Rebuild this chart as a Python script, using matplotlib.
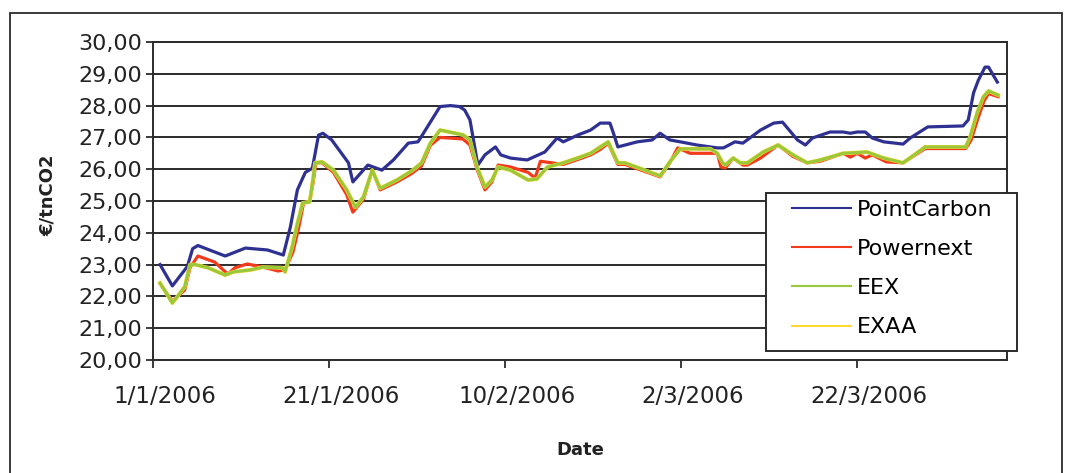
import matplotlib
matplotlib.use("Agg")
import matplotlib.pyplot as plt
from matplotlib.patches import Rectangle

# --- Data (days counted from 1/1/2006) ---
pc_days = [0.3, 1.7, 3.4, 4.0, 4.6, 7.7, 10.0, 12.5, 14.3, 15.1, 15.9, 16.8, 17.6, 18.3, 18.8,
           19.8, 21.7, 22.2, 23.9, 24.5, 25.5, 26.8, 28.5, 29.6, 30.6, 32.1, 33.3, 34.3, 34.9,
           35.5, 35.9, 36.4, 37.2, 38.4, 39.0, 40.1, 42.0, 44.0, 45.4, 46.1, 47.8, 49.2, 50.3,
           51.4, 51.8, 52.3, 54.5, 56.2, 57.1, 58.2, 59.4, 61.3, 63.6, 64.3, 65.6, 66.5, 68.5,
           70.0, 71.0, 72.7, 73.6, 74.4, 76.4, 77.9, 78.7, 79.5, 80.4, 81.2, 82.5, 84.7, 85.5,
           87.5, 91.5, 92.1, 92.7, 93.25, 94.0, 94.4, 95.4]
pc_values = [23.00, 22.33, 22.94, 23.50, 23.60, 23.27, 23.52, 23.46, 23.30, 24.18, 25.35, 25.90,
             26.03, 27.07, 27.13, 26.92, 26.20, 25.60, 26.13, 26.07, 25.97, 26.29, 26.82, 26.86,
             27.30, 27.97, 28.00, 27.97, 27.86, 27.55, 26.92, 26.13, 26.45, 26.70, 26.45, 26.35,
             26.29, 26.54, 26.98, 26.86, 27.08, 27.23, 27.45, 27.45, 27.13, 26.70, 26.86, 26.92,
             27.13, 26.92, 26.86, 26.76, 26.67, 26.67, 26.86, 26.82, 27.23, 27.45, 27.48, 26.92,
             26.76, 26.98, 27.17, 27.17, 27.13, 27.17, 27.17, 26.98, 26.86, 26.79, 26.98, 27.33,
             27.36, 27.55, 28.40, 28.80, 29.21, 29.21, 28.74]

pn_days = [0.3, 1.7, 3.1, 3.7, 4.6, 6.5, 8.0, 8.8, 10.2, 12.0, 13.7, 14.5, 15.4, 16.0, 16.6,
           17.3, 17.7, 18.0, 18.7, 20.0, 21.5, 22.2, 23.4, 24.4, 25.3, 27.2, 28.8, 30.0, 31.0,
           32.1, 34.7, 35.5, 36.3, 37.2, 38.0, 38.7, 40.1, 42.1, 42.9, 43.5, 46.1, 48.0, 49.2,
           50.3, 51.2, 52.3, 53.1, 57.1, 58.2, 59.1, 60.5, 63.6, 64.0, 64.5, 65.4, 66.5, 67.0,
           68.5, 70.5, 72.2, 73.8, 75.3, 77.9, 78.7, 79.5, 80.4, 81.2, 82.8, 84.7, 87.2, 91.8,
           92.4, 93.2, 93.9, 94.4, 95.5]
pn_values = [22.40, 21.85, 22.20, 22.90, 23.27, 23.08, 22.70, 22.90, 23.02, 22.92, 22.80, 22.83,
             23.40, 24.10, 24.94, 25.00, 25.60, 26.20, 26.20, 25.90, 25.20, 24.65, 25.05, 25.97,
             25.35, 25.60, 25.85, 26.10, 26.75, 27.00, 26.95, 26.76, 26.00, 25.35, 25.60, 26.13,
             26.07, 25.90, 25.72, 26.25, 26.15, 26.33, 26.45, 26.62, 26.82, 26.15, 26.15, 25.76,
             26.20, 26.67, 26.50, 26.50, 26.07, 26.04, 26.35, 26.13, 26.13, 26.35, 26.76, 26.40,
             26.20, 26.25, 26.50, 26.38, 26.50, 26.35, 26.45, 26.23, 26.20, 26.65, 26.65, 26.90,
             27.60, 28.15, 28.38, 28.28]

eex_days = [0.3, 1.7, 3.1, 3.7, 4.3, 5.75, 7.7, 8.6, 10.5, 12.0, 14.2, 14.5, 15.3, 15.9, 16.5,
            17.3, 17.7, 17.9, 18.7, 20.0, 21.5, 22.5, 23.4, 24.4, 25.3, 27.2, 29.0, 30.0, 31.0,
            32.1, 34.7, 35.5, 36.3, 37.2, 38.0, 38.7, 40.1, 42.1, 43.1, 44.3, 46.1, 48.0, 49.2,
            50.3, 51.2, 52.3, 53.1, 57.1, 58.2, 59.4, 62.8, 63.6, 64.2, 64.5, 65.4, 66.2, 67.0,
            68.8, 70.5, 72.2, 73.8, 75.3, 77.9, 80.6, 82.5, 84.7, 87.2, 91.8, 92.3, 93.1, 93.8,
            94.4, 95.5]
eex_values = [22.42, 21.79, 22.30, 23.00, 23.00, 22.90, 22.67, 22.77, 22.83, 22.92, 22.90, 22.77,
              23.55, 24.30, 24.94, 24.97, 25.75, 26.20, 26.23, 25.97, 25.35, 24.80, 25.13, 25.97,
              25.40, 25.66, 25.97, 26.20, 26.82, 27.23, 27.08, 26.92, 26.07, 25.44, 25.66, 26.07,
              25.97, 25.66, 25.69, 26.07, 26.20, 26.38, 26.50, 26.70, 26.86, 26.20, 26.20, 25.79,
              26.23, 26.64, 26.64, 26.50, 26.20, 26.13, 26.35, 26.20, 26.20, 26.54, 26.76, 26.45,
              26.20, 26.29, 26.50, 26.54, 26.35, 26.20, 26.70, 26.70, 27.01, 27.77, 28.27, 28.46,
              28.33]

# EXAA sits underneath EEX for the whole period
exaa_days = eex_days
exaa_values = eex_values

tick_days = [0, 20, 40, 60, 80]
tick_labels = ["1/1/2006", "21/1/2006", "10/2/2006", "2/3/2006", "22/3/2006"]
y_ticks = [20, 21, 22, 23, 24, 25, 26, 27, 28, 29, 30]

# --- Plot ---
W, H = 1070, 473
fig = plt.figure(figsize=(W / 100, H / 100), dpi=100)
ax = fig.add_axes([153 / W, 1 - 360 / H, (1007 - 153) / W, (360 - 42) / H])

dark = "#2b2b2b"
# data points sit in the middle of each day band
ax.plot([d + 0.5 for d in pc_days], pc_values, color="#2e3192", lw=2.3, label="PointCarbon", zorder=3)
ax.plot([d + 0.5 for d in pn_days], pn_values, color="#f23a1d", lw=2.3, label="Powernext", zorder=4)
ax.plot([d + 0.5 for d in exaa_days], exaa_values, color="#ffd92f", lw=2.8, label="EXAA", zorder=5)
ax.plot([d + 0.5 for d in eex_days], eex_values, color="#99c93a", lw=2.2, label="EEX", zorder=6)

ax.set_xlim(0, 97)
ax.set_ylim(20, 30)
ax.set_yticks(y_ticks)
ax.set_yticklabels([f"{v:.2f}".replace(".", ",") for v in y_ticks], fontsize=16, color="#222")
ax.yaxis.grid(True, color=dark, lw=1.4)
ax.set_axisbelow(True)

ax.set_xticks(tick_days)
ax.set_xticklabels([])
ax.set_xticks([d + 1.35 for d in tick_days], minor=True)
ax.set_xticklabels(tick_labels, minor=True, fontsize=16.5, color="#222")
ax.tick_params(axis="x", which="major", length=6, width=1.3, color=dark, direction="out")
ax.tick_params(axis="x", which="minor", length=0, pad=18)
ax.tick_params(axis="y", length=5, width=1.3, color=dark, pad=3)
for s in ax.spines.values():
    s.set_color(dark)
    s.set_linewidth(1.4)

fig.text(48 / W, 1 - 195 / H, "€/tnCO2", rotation=90, ha="center", va="center",
         fontsize=13, fontweight="bold", color="#222")
fig.text(580 / W, 1 - 450 / H, "Date", ha="center", va="center",
         fontsize=13, fontweight="bold", color="#222")

# legend box drawn separately so it can be wider than its contents
fig.patches.append(Rectangle((766 / W, 1 - 351 / H), (1017 - 766) / W, (351 - 193) / H,
                             transform=fig.transFigure, fc="white", ec=dark, lw=1.4, zorder=10))
handles, labels = ax.get_legend_handles_labels()
order = ["PointCarbon", "Powernext", "EEX", "EXAA"]
hmap = dict(zip(labels, handles))
leg = fig.legend([hmap[k] for k in order], order, loc="upper left",
                 bbox_to_anchor=(792 / W, 1 - 200 / H), bbox_transform=fig.transFigure,
                 fontsize=16, frameon=False, borderaxespad=0, borderpad=0,
                 handlelength=2.65, handletextpad=0.25, labelspacing=0.86)
leg.set_zorder(11)
for line in leg.get_lines():
    line.set_linewidth(1.5)

# outer chart border
fig.patches.append(Rectangle((10 / W, -0.1), (1062 - 10) / W, (H - 13) / H + 0.1,
                             transform=fig.transFigure, fill=False, ec=dark, lw=1.3))

fig.savefig("out.png", dpi=100)
